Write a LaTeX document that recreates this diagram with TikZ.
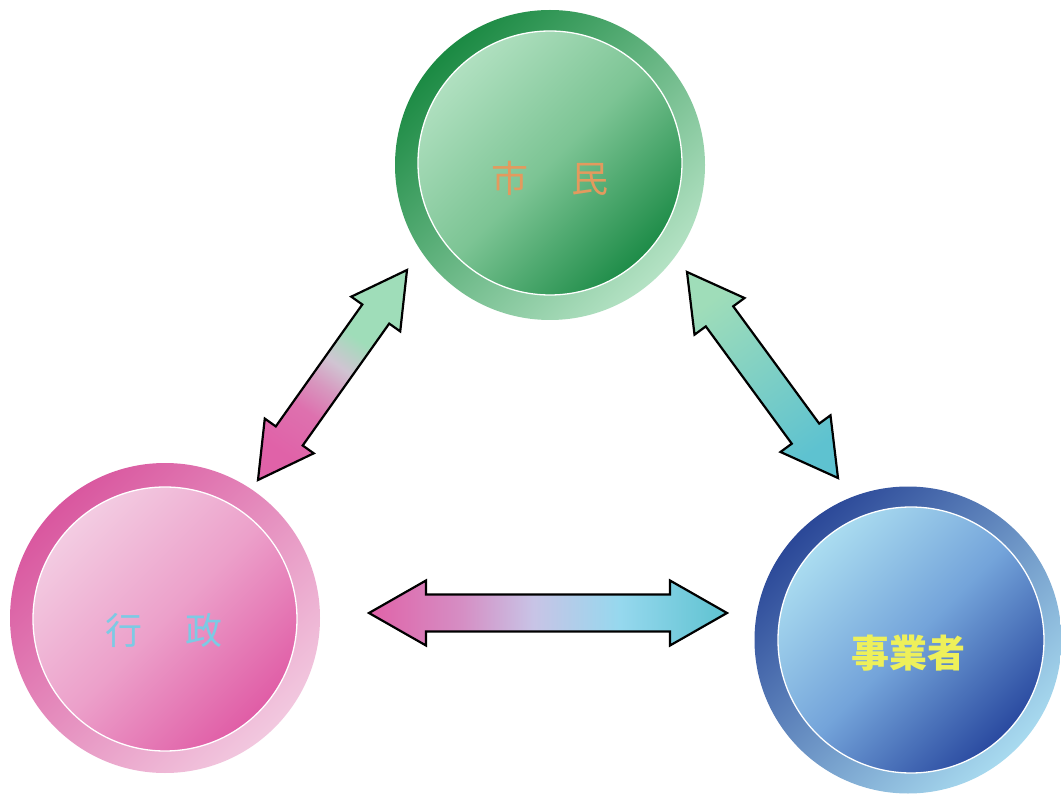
\documentclass[tikz,border=0pt]{standalone}
\usepackage{fontspec}
\newfontfamily\jp{Noto Sans CJK JP}
\usetikzlibrary{calc}
\definecolor{grDark}{HTML}{1B8A43}
\definecolor{grLight}{HTML}{B4E2C4}
\definecolor{grInL}{HTML}{B0E0C0}
\definecolor{grInM}{HTML}{7CC494}
\definecolor{grInD}{HTML}{1E8C48}
\definecolor{pkDark}{HTML}{D9579F}
\definecolor{pkLight}{HTML}{F2C8DF}
\definecolor{pkInL}{HTML}{F3CCE2}
\definecolor{pkInM}{HTML}{ECA0CA}
\definecolor{pkInD}{HTML}{E05DA6}
\definecolor{blDark}{HTML}{2B4898}
\definecolor{blLight}{HTML}{A8DAEF}
\definecolor{blInL}{HTML}{AADCF0}
\definecolor{blInM}{HTML}{74A4DA}
\definecolor{blInD}{HTML}{2A4AA0}
\definecolor{arGreen}{HTML}{9FDDB9}
\definecolor{arPink}{HTML}{E062A8}
\definecolor{arMid}{HTML}{D0C4D2}
\definecolor{arTeal}{HTML}{5EC2D0}
\definecolor{arLav}{HTML}{C8C4E6}
\definecolor{arLBlue}{HTML}{96D8EE}
\definecolor{shiminC}{HTML}{E39A5E}
\definecolor{gyoseiC}{HTML}{7CCAE4}
\definecolor{jigyoC}{HTML}{EEF05A}
\pgfdeclareverticalshading{armLeft}{100bp}{color(0bp)=(arPink); color(25bp)=(arPink); color(38bp)=(arPink!85!arMid); color(46bp)=(arPink!45!arMid); color(53bp)=(arMid); color(62bp)=(arGreen); color(75bp)=(arGreen); color(100bp)=(arGreen)}
\pgfdeclareverticalshading{armRight}{100bp}{color(0bp)=(arGreen); color(25bp)=(arGreen); color(75bp)=(arTeal); color(100bp)=(arTeal)}
\pgfdeclarehorizontalshading{armHoriz}{100bp}{color(0bp)=(arPink); color(25bp)=(arPink); color(38bp)=(arPink!55!arLav); color(48bp)=(arLav); color(60bp)=(arLBlue); color(75bp)=(arTeal); color(100bp)=(arTeal)}
% #1 tip, #2 tip, #3 half shaft, #4 half head, #5 head length, #6 options
\newcommand\blockarrow[6]{%
  \path[#6]
    (#1)
    -- ($(#1)!#5!(#2)!#4!90:(#2)$)
    -- ($(#1)!#5!(#2)!#3!90:(#2)$)
    -- ($(#2)!#5!(#1)!#3!-90:(#1)$)
    -- ($(#2)!#5!(#1)!#4!-90:(#1)$)
    -- (#2)
    -- ($(#2)!#5!(#1)!#4!90:(#1)$)
    -- ($(#2)!#5!(#1)!#3!90:(#1)$)
    -- ($(#1)!#5!(#2)!#3!-90:(#2)$)
    -- ($(#1)!#5!(#2)!#4!-90:(#2)$)
    -- cycle;}
\begin{document}
\begin{tikzpicture}[x=1pt,y=-1pt,
  outerring/.style={circle, inner sep=0pt, minimum size=#1},
  innerdisc/.style={circle, inner sep=0pt, minimum size=#1, draw=white, line width=1.3pt},
  label/.style={font=\jp\fontsize{37pt}{37pt}\selectfont, inner sep=0pt},
  arrowbody/.style={draw=black, line width=2.2pt, line join=miter}]
\fill[white] (0,0) rectangle (1061,794);
\useasboundingbox (0,0) rectangle (1061,794);
\begin{scope}
\clip (0,0) rectangle (1061,794);
% 市民
\node[outerring=310pt, top color=grLight, bottom color=grDark, shading angle=-135] (shiminO) at (550,165) {};
\node[innerdisc=264pt, top color=grInD, bottom color=grInL, middle color=grInM, shading angle=-135] (shiminI) at (550,163) {};
\node[label, text=shiminC] (shiminT) at (550,178) {市\hspace{43pt}民};
% 行政
\node[outerring=310pt, top color=pkLight, bottom color=pkDark, shading angle=-135] (gyoseiO) at (165,618) {};
\node[innerdisc=264pt, top color=pkInD, bottom color=pkInL, middle color=pkInM, shading angle=-135] (gyoseiI) at (165,619) {};
\node[label, text=gyoseiC] (gyoseiT) at (164,630) {行\hspace{43pt}政};
% 事業者
\node[outerring=307pt, top color=blLight, bottom color=blDark, shading angle=-135] (jigyoO) at (908,640) {};
\node[innerdisc=266pt, top color=blInD, bottom color=blInL, middle color=blInM, shading angle=-135] (jigyoI) at (911,640) {};
\node[label, text=jigyoC, font=\jp\bfseries\fontsize{38pt}{38pt}\selectfont] (jigyoT) at (908,653) {事業者};
\end{scope}
% arrow tips
\coordinate (lTop) at (407,270);
\coordinate (lBot) at (258,480);
\coordinate (rTop) at (687,272);
\coordinate (rBot) at (838,478);
\coordinate (hLeft) at (369,613);
\coordinate (hRight) at (727,613);
\blockarrow{lBot}{lTop}{16.5pt}{30pt}{54pt}{arrowbody, shading=armLeft, shading angle=-35.4}
\blockarrow{rTop}{rBot}{17pt}{31pt}{55pt}{arrowbody, shading=armRight, shading angle=-143.8}
\blockarrow{hLeft}{hRight}{18.5pt}{32.5pt}{57pt}{arrowbody, shading=armHoriz}
\end{tikzpicture}
\end{document}
